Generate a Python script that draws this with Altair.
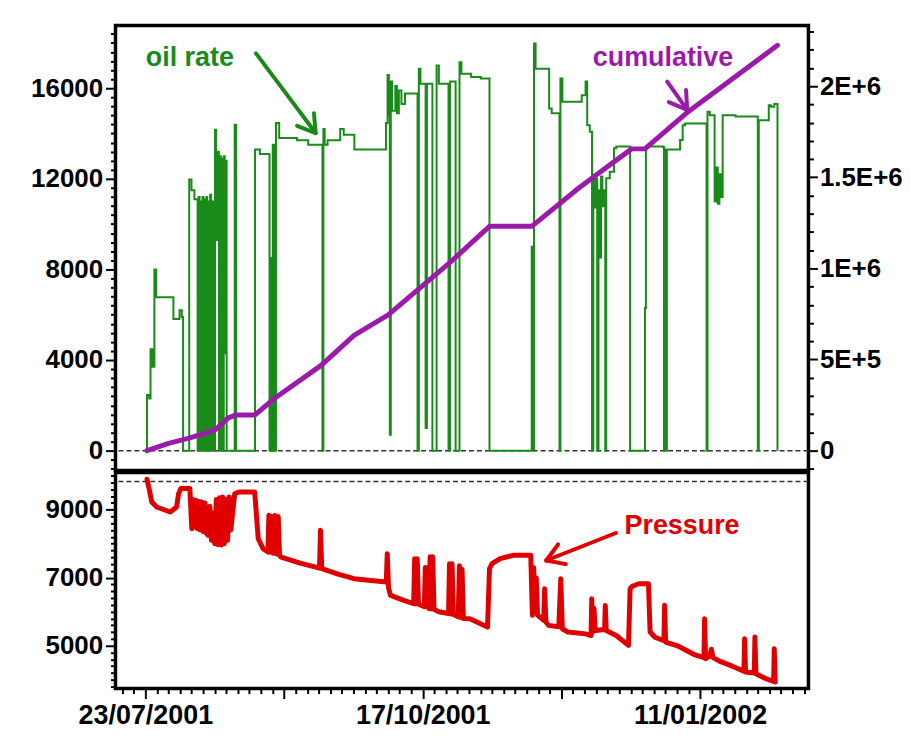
import math
import altair as alt
import pandas as pd

# ---------------------------------------------------------------------------
# Well test record: oil rate, cumulative oil and bottom-hole pressure.
# Time is given as days after 23/07/2001.
# ---------------------------------------------------------------------------
OIL_DAY = [
    0.3, 0.5, 1.2, 1.6, 2.2, 2.8, 3.3, 8.7, 10.6, 11.3, 11.7,
    13.6, 14.3, 15.2, 16.2, 16.5, 16.8, 17.1, 17.4, 17.7, 18.0, 18.3, 18.6,
    18.9, 19.2, 19.5, 19.8, 20.1, 20.4, 20.7, 21.0,
    21.6, 21.9, 22.2, 22.5, 22.8, 23.1, 23.4, 23.7, 24.0, 24.3, 24.6, 24.9, 25.2,
    27.7, 28.1, 34.0, 35.5, 38.5, 38.8, 39.2, 39.5, 40.0, 40.5, 41.5, 47.0, 50.5,
    54.9, 55.2, 55.6, 56.5, 60.4, 61.5, 64.8,
    74.6, 75.1, 75.5, 75.8, 76.1, 76.5, 77.5, 78.0, 78.6, 79.4, 80.5,
    84.4, 84.8, 85.3, 86.9, 87.3, 89.0, 90.3, 91.0, 94.0, 94.5, 96.2,
    97.4, 98.0, 101.0, 104.0, 106.7,
    119.8, 120.2, 120.5, 121.0, 125.2, 126.0, 128.4, 128.7, 129.3, 135.3,
    136.5, 137.0, 137.8, 138.5, 138.9, 139.3, 139.7, 140.1, 140.5, 140.9,
    141.3, 141.7, 142.2, 142.6, 142.9, 144.0, 145.3, 146.0, 150.3,
    154.9, 155.2, 160.5, 160.8, 161.1, 161.4, 161.7, 165.8, 166.6, 167.3,
    174.0, 174.3, 175.0, 176.5, 177.0, 177.5, 178.0, 178.5, 179.0, 183.0,
    189.9, 190.2, 193.3, 194.0, 195.0, 196.0,
]
OIL_RATE = [
    0, 2460, 2300, 4480, 3700, 8000, 6770, 5815, 6200, 5900, 0,
    11970, 11500, 11100, 0, 11200, 0, 11000, 0, 11200, 0, 11100, 0,
    11200, 0, 11000, 0, 11300, 0, 11000, 0,
    14170, 13100, 9300, 13200, 0, 13000, 0, 12900, 0, 13000, 4300, 12800, 0,
    14390, 0, 13290, 13100, 0, 8500, 0, 13500, 0, 14460, 13800, 13700, 13500,
    0, 14200, 13500, 13700, 14200, 13950, 13290,
    14460, 16580, 14800, 700, 16300, 15000, 16100, 14900, 15900, 15300, 15770,
    0, 16860, 16200, 1000, 16200, 0, 17000, 16200, 0, 16300, 0,
    17150, 16640, 16500, 16430, 0,
    9000, 0, 17970, 16860, 15110, 14900, 0, 16430, 15400, 15690,
    16300, 14370, 14080, 0, 12180, 10730, 12000, 0, 11500, 8530,
    12100, 10800, 11500, 0, 12030, 12310, 13350, 13430, 0,
    6300, 13430, 13400, 0, 13300, 0, 13290, 13710, 14370, 14440,
    0, 14960, 14810, 11000, 12500, 10900, 12200, 11200, 14810, 14750,
    0, 14590, 15250, 15180, 15300, 0,
]

CUM_DAY = [0.5, 7.2, 13.3, 21.6, 25.7, 28.0, 33.9, 40.0, 54.5, 64.7, 75.3,
           94.3, 106.7, 119.8, 134.4, 142.6, 150.8, 154.9, 168.3, 196.0]
CUM_OIL = [0, 40000, 67000, 113000, 180000, 195000, 195000, 286000, 468000,
           632000, 745000, 1030000, 1231000, 1231000, 1441000, 1550000,
           1656000, 1656000, 1860000, 2224000]

P_DAY = [
    0.5, 1.2, 2.0, 3.5, 7.7, 9.7, 10.3, 11.0, 13.8,
    14.4, 14.8, 15.2, 15.6, 16.0, 16.5, 17.0, 17.5, 18.0, 18.5, 19.0, 19.5,
    20.0, 20.5, 21.0, 21.5, 22.0, 22.5, 23.0, 23.5, 24.0, 24.5, 25.0, 25.5,
    26.0, 26.5, 27.7, 29.0, 33.9, 35.0, 36.5, 38.0, 38.3, 38.7, 39.2, 39.6,
    40.2, 40.6, 41.2, 41.6, 42.1, 48.0, 54.0, 54.3, 54.7, 60.0, 64.7, 70.0,
    74.7, 75.0, 75.4, 76.0, 80.0, 83.2, 83.5, 83.9, 84.3, 84.7, 86.5, 86.8,
    87.2, 87.6, 88.0, 88.3, 88.7, 89.1, 89.5, 91.0, 94.0, 94.3, 94.7, 95.1,
    95.5, 97.0, 97.4, 97.8, 98.2, 98.6, 100.6, 106.1, 106.7, 107.5, 110.0,
    114.0, 119.5, 120.0, 120.4, 120.8, 121.2, 121.6, 123.5, 123.8, 124.2,
    125.0, 128.2, 128.8, 129.3, 131.0, 136.5, 138.2, 138.4, 138.7, 139.1,
    139.5, 142.4, 142.6, 142.9, 146.0, 149.8, 150.3, 151.0, 153.0, 156.0,
    156.5, 158.0, 160.8, 161.0, 161.3, 165.0, 170.0, 173.2, 173.4, 173.7,
    175.0, 175.5, 176.0, 178.0, 182.0, 185.6, 185.8, 186.1, 188.8, 189.0,
    189.3, 192.0, 194.8, 195.0, 195.3,
]
PRESSURE = [
    9894, 9600, 9226, 9080, 8932, 9080, 9470, 9620, 9620,
    8441, 9300, 8500, 9280, 8450, 9250, 8400, 9230, 8350, 9200, 8300, 8250,
    9100, 8100, 8900, 8000, 9300, 7970, 9350, 7960, 9375, 8000, 9300, 8100,
    9375, 8400, 9470, 9520, 9520, 8147, 7853, 7756, 8835, 7750, 8800, 7720,
    8830, 7700, 8800, 7650, 7609, 7430, 7280, 8394, 7270, 7100, 6971, 6920,
    6874, 7706, 6700, 6482, 6340, 6235, 7560, 6230, 7560, 6220, 6150, 7300,
    6140, 7300, 6088, 7618, 6080, 7618, 6070, 6000, 5950, 7412, 5930, 7412,
    5920, 5850, 7350, 5830, 7250, 5800, 5794, 5550, 7265, 7412, 7559,
    7659, 7659, 5894, 7300, 6000, 7000, 5900, 5750, 6676, 5700,
    5600, 5560, 6971, 5500, 5403, 5350, 5300, 6382, 5400, 6100,
    5450, 5480, 6185, 5450, 5300, 5012, 6676, 6750, 6824, 6824,
    5403, 5250, 5150, 6188, 5110, 5000, 4750, 4650, 5794, 4618,
    4700, 4900, 4650, 4550, 4400, 4250, 5206, 4227, 4200, 5256,
    4180, 4050, 3950, 4912, 3933,
]

# Annotations: text anchor (day, value) and arrows (tail -> tip), in data units
TOP_LABELS = ["oil rate", "cumulative"]
TOP_LABEL_DAY = [13.8, 160.5]
TOP_LABEL_RATE = [16967, 16967]
TOP_ARROW_TAIL = [(34.3, 17538), (161.8, 16294)]
TOP_ARROW_TIP = [(52.8, 14022), (168.0, 15046)]

P_LABEL = "Pressure"
P_LABEL_DAY = 166.4
P_LABEL_VALUE = 8277
P_ARROW_TAIL = (145.9, 8315)
P_ARROW_TIP = (124.3, 7507)

# ---------------------------------------------------------------------------
GREEN = "#1a8a1a"
PURPLE = "#9c1aaa"
RED = "#e00000"
FONT = "Liberation Sans"

DAY_MS = 86_400_000
BASE_MS = int(pd.Timestamp("2001-07-23", tz="UTC").value // 1_000_000)

X_DAYS = (-9.26, 205.6)
RATE_DOMAIN = (-879, 18769)
CUM_DOMAIN = (-109300, 2333000)
P_DOMAIN = (3741, 10092)
PLOT_W, TOP_H, BOT_H = 696, 447, 217


def ms(day):
    return int(round(BASE_MS + day * DAY_MS))


def arrow_segments(tail, tip, y_domain, height, head=20, spread=32):
    """Shaft plus two head strokes for an arrow, returned in data units."""
    sx = PLOT_W / (X_DAYS[1] - X_DAYS[0])
    sy = height / (y_domain[1] - y_domain[0])
    tx, ty = tail[0] * sx, -tail[1] * sy
    px, py = tip[0] * sx, -tip[1] * sy
    ang = math.atan2(ty - py, tx - px)
    segs = [(tail, tip)]
    for s in (-1, 1):
        a = ang + s * math.radians(spread)
        hx, hy = px + head * math.cos(a), py + head * math.sin(a)
        segs.append(((hx / sx, -hy / sy), tip))
    return segs


def arrow_frame(tail, tip, y_domain, height, color):
    rows = []
    for (a, b) in arrow_segments(tail, tip, y_domain, height):
        rows.append({"t": ms(a[0]), "v": a[1], "t2": ms(b[0]), "v2": b[1], "c": color})
    return pd.DataFrame(rows)


def major_only(test, size):
    """Axis property that is `size` on labelled ticks and 0 elsewhere."""
    return {"condition": {"test": test, "value": size}, "value": 0}


def tick_len(test, major, minor):
    return {"condition": {"test": test, "value": major}, "value": minor}


# Tick layouts
x_minor = [ms(k * 43 / 12) for k in range(-2, 58)]
x_major = [ms(d) for d in (0, 43, 86, 129, 172)]
x_labelled = [ms(d) for d in (0, 86, 172)]
major_list = "[" + ",".join(str(v) for v in x_major) + "]"
label_list = "[" + ",".join(str(v) for v in x_labelled) + "]"

axis_text = dict(labelFont=FONT, labelFontWeight="bold", labelColor="black",
                 tickColor="black", tickWidth=2, domain=False, grid=False,
                 labelOverlap=False, labelFlush=False, title=None)

left_test = "datum.value % 4000 === 0"
left_axis = alt.Axis(
    values=list(range(-800, 18401, 400)),
    labelExpr=f"{left_test} ? format(datum.value, 'd') : ''",
    labelFontSize=major_only(left_test, 26),
    tickSize=tick_len(left_test, 10, 5),
    labelPadding=3, minExtent=104, maxExtent=104, **axis_text)

right_test = "datum.value % 500000 === 0"
right_axis = alt.Axis(
    orient="right",
    values=list(range(-100000, 2300001, 100000)),
    labelExpr="datum.value === 0 ? '0' : (datum.value % 500000 === 0 ? "
              "upper(format(datum.value, '.2~e')) : '')",
    labelFontSize=major_only(right_test, 26),
    tickSize=tick_len(right_test, 9, 5),
    labelPadding=2, minExtent=101, maxExtent=101, **axis_text)

p_test = "datum.value % 2000 === 1000"
p_axis = alt.Axis(
    values=list(range(3800, 10001, 200)),
    labelExpr=f"{p_test} ? format(datum.value, 'd') : ''",
    labelFontSize=major_only(p_test, 26),
    tickSize=tick_len(p_test, 10, 5),
    labelPadding=3, minExtent=104, maxExtent=104, **axis_text)

x_label_test = f"indexof({label_list}, time(datum.value)) >= 0"
x_axis = alt.Axis(
    values=x_minor,
    labelExpr=f"{x_label_test} ? utcFormat(datum.value, '%d/%m/%Y') : ''",
    labelFontSize=major_only(x_label_test, 27),
    tickSize=tick_len(f"indexof({major_list}, time(datum.value)) >= 0", 10, 5),
    labelPadding=4, **axis_text)

x_scale = alt.Scale(type="utc", domain=[ms(X_DAYS[0]), ms(X_DAYS[1])], nice=False)
rate_scale = alt.Scale(domain=list(RATE_DOMAIN), nice=False, zero=False)
cum_scale = alt.Scale(domain=list(CUM_DOMAIN), nice=False, zero=False)
p_scale = alt.Scale(domain=list(P_DOMAIN), nice=False, zero=False)

oil_df = pd.DataFrame({"t": [ms(d) for d in OIL_DAY], "rate": OIL_RATE})
cum_df = pd.DataFrame({"t": [ms(d) for d in CUM_DAY], "cum": CUM_OIL})
p_df = pd.DataFrame({"t": [ms(d) for d in P_DAY], "p": PRESSURE})

# ---------------------------- upper panel ----------------------------------
zero_line = alt.Chart(pd.DataFrame({"v": [0]})).mark_rule(
    color="#333333", strokeDash=[5, 3], strokeWidth=1.5
).encode(y=alt.Y("v:Q", scale=rate_scale, axis=left_axis))

oil_line = alt.Chart(oil_df).mark_line(
    interpolate="step-after", color=GREEN, strokeWidth=2
).encode(
    x=alt.X("t:T", scale=x_scale, axis=None),
    y=alt.Y("rate:Q", scale=rate_scale, axis=left_axis),
)

top_arrows_df = pd.concat([
    arrow_frame(TOP_ARROW_TAIL[0], TOP_ARROW_TIP[0], RATE_DOMAIN, TOP_H, GREEN),
    arrow_frame(TOP_ARROW_TAIL[1], TOP_ARROW_TIP[1], RATE_DOMAIN, TOP_H, PURPLE),
], ignore_index=True)

top_arrows = alt.Chart(top_arrows_df).mark_rule(strokeWidth=4, strokeCap="round").encode(
    x=alt.X("t:T", scale=x_scale, axis=None), x2="t2:T",
    y=alt.Y("v:Q", scale=rate_scale, axis=left_axis), y2="v2:Q",
    color=alt.Color("c:N", scale=None),
)

top_text_df = pd.DataFrame({
    "t": [ms(d) for d in TOP_LABEL_DAY], "v": TOP_LABEL_RATE,
    "label": TOP_LABELS, "c": [GREEN, PURPLE],
})
top_text = alt.Chart(top_text_df).mark_text(
    font=FONT, fontSize=27, fontWeight="bold", align="center", baseline="alphabetic"
).encode(
    x=alt.X("t:T", scale=x_scale, axis=None),
    y=alt.Y("v:Q", scale=rate_scale, axis=left_axis),
    text="label:N", color=alt.Color("c:N", scale=None),
)

cum_line = alt.Chart(cum_df).mark_line(
    color=PURPLE, strokeWidth=5, strokeCap="round", strokeJoin="round"
).encode(
    x=alt.X("t:T", scale=x_scale, axis=None),
    y=alt.Y("cum:Q", scale=cum_scale, axis=right_axis),
)

top = alt.layer(
    alt.layer(zero_line, oil_line, top_arrows, top_text),
    cum_line,
).resolve_scale(y="independent").properties(width=PLOT_W, height=TOP_H)

# ---------------------------- lower panel ----------------------------------
p_ref = alt.Chart(pd.DataFrame({"v": [9830]})).mark_rule(
    color="#333333", strokeDash=[5, 3], strokeWidth=1.5
).encode(y=alt.Y("v:Q", scale=p_scale, axis=p_axis))

p_line = alt.Chart(p_df).mark_line(
    color=RED, strokeWidth=5, strokeJoin="round", strokeCap="round"
).encode(
    x=alt.X("t:T", scale=x_scale, axis=x_axis),
    y=alt.Y("p:Q", scale=p_scale, axis=p_axis),
)

p_arrow = alt.Chart(arrow_frame(P_ARROW_TAIL, P_ARROW_TIP, P_DOMAIN, BOT_H, RED)).mark_rule(
    strokeWidth=4, strokeCap="round"
).encode(
    x=alt.X("t:T", scale=x_scale, axis=x_axis), x2="t2:T",
    y=alt.Y("v:Q", scale=p_scale, axis=p_axis), y2="v2:Q",
    color=alt.Color("c:N", scale=None),
)

p_text = alt.Chart(pd.DataFrame({"t": [ms(P_LABEL_DAY)], "v": [P_LABEL_VALUE],
                                 "label": [P_LABEL]})).mark_text(
    font=FONT, fontSize=27, fontWeight="bold", align="center",
    baseline="alphabetic", color=RED
).encode(
    x=alt.X("t:T", scale=x_scale, axis=x_axis),
    y=alt.Y("v:Q", scale=p_scale, axis=p_axis),
    text="label:N",
)

bottom = alt.layer(p_ref, p_line, p_arrow, p_text).properties(width=PLOT_W, height=BOT_H)

chart = alt.vconcat(top, bottom, spacing=2, bounds="flush").properties(
    padding={"left": 10, "top": 22, "right": 0, "bottom": 4},
    background="white",
).configure_view(stroke="black", strokeWidth=3.5)

chart.save("out.html", embed_options={"renderer": "svg", "actions": False})
